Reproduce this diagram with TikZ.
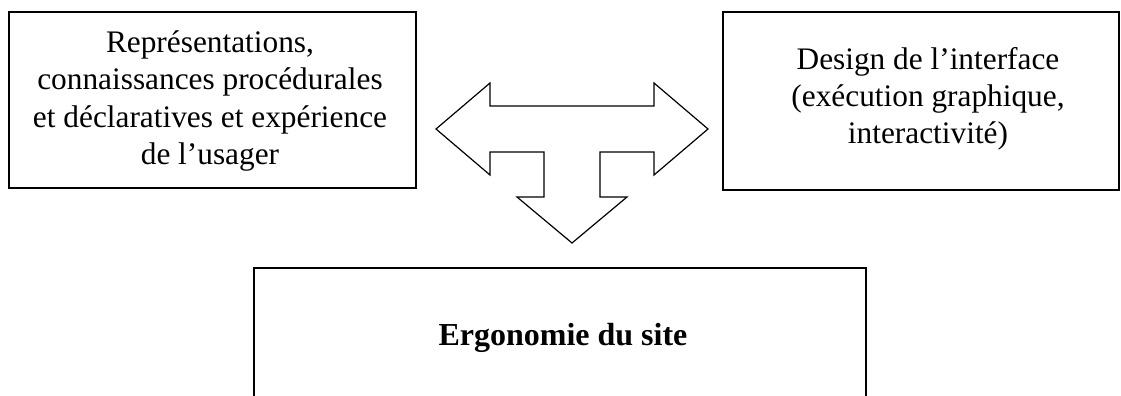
\documentclass[tikz,border=0pt]{standalone}
\usepackage{fontspec}
\setmainfont{Liberation Serif}
\begin{document}
\begin{tikzpicture}[x=0.75pt,y=-0.75pt,
  boxstyle/.style={draw=black,line width=0.9pt,rectangle,inner sep=0pt},
  txt/.style={align=center,inner sep=0pt,font=\fontsize{23.5}{27.9}\selectfont}]
\useasboundingbox (0,0) rectangle (1121,396);
\clip (0,0) rectangle (1121,396);
% boxes
\node[boxstyle,minimum width=407*0.75pt,minimum height=176*0.75pt] (left) at (212.5,100) {};
\node[boxstyle,minimum width=396*0.75pt,minimum height=178*0.75pt] (right) at (921,101) {};
\node[boxstyle,minimum width=612*0.75pt,minimum height=200*0.75pt] (bottom) at (560,368) {};
% texts
\node[txt] (lefttxt) at (210,101) {Représentations,\\connaissances procédurales\\et déclaratives et expérience\\de l’usager};
\node[txt] (righttxt) at (928,99) {Design de l’interface\\(exécution graphique,\\interactivité)};
\node[txt,font=\fontsize{24}{28}\selectfont\bfseries] (bottomtxt) at (563,338) {Ergonomie du site};
% T-shaped three-way arrow
\draw[line width=0.9pt,line join=miter]
  (436,129) -- (490,83) -- (490,106) -- (654,106) -- (654,83) -- (708,129)
  -- (654,175) -- (654,152) -- (600,152) -- (600,197) -- (627,197)
  -- (572,243) -- (517,197) -- (544,197) -- (544,152) -- (490,152)
  -- (490,175) -- cycle;
\end{tikzpicture}
\end{document}
